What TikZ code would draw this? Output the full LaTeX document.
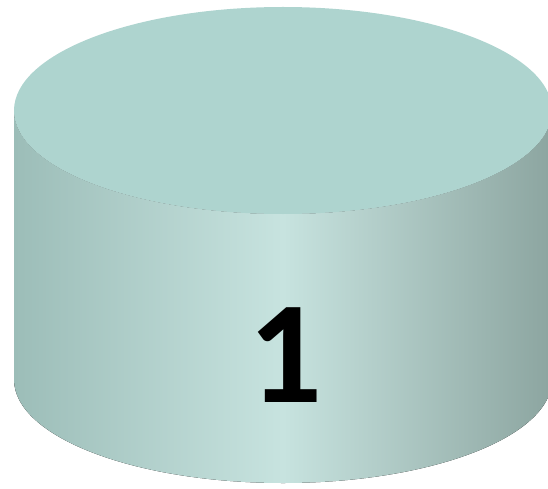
\documentclass[tikz,border=0pt]{standalone}
\usepackage{fontspec}
\setmainfont{Carlito}

\definecolor{topface}{RGB}{174,212,207}
\definecolor{sideleft}{RGB}{156,189,184}
\definecolor{sidemid}{RGB}{199,227,223}
\definecolor{sideright}{RGB}{140,165,160}

\begin{document}
\begin{tikzpicture}[x=1pt, y=1pt]
  \useasboundingbox (0,0) rectangle (548,488);
  % side of the cylinder
  \fill[left color=sideleft, right color=sideright, middle color=sidemid]
    (14,377.5) -- (14,108.5)
    arc[start angle=180, end angle=360, x radius=269, y radius=103.5]
    -- (552,377.5)
    arc[start angle=0, end angle=-180, x radius=269, y radius=103.5] -- cycle;
  % top face
  \fill[topface] (283,377.5) ellipse[x radius=269, y radius=103.5];
  \node[font=\bfseries\fontsize{146}{146}\selectfont, anchor=base, inner sep=0pt] (num) at (285,86) {1};
\end{tikzpicture}
\end{document}
